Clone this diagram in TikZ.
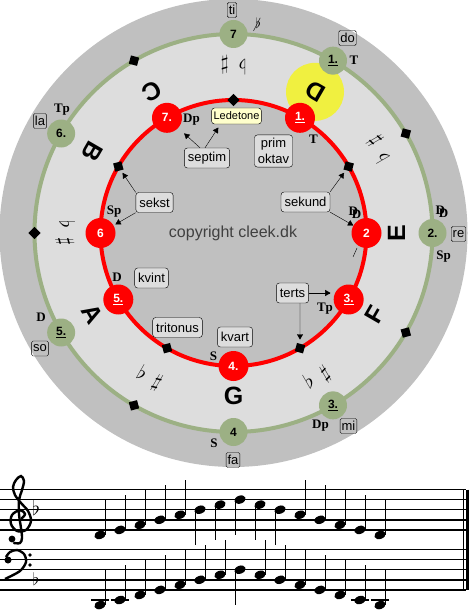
\documentclass[tikz,border=0pt]{standalone}
\usepackage{fontspec}
\setmainfont{Liberation Serif}
\setsansfont{Liberation Sans}
\usetikzlibrary{shapes,arrows,positioning}

\definecolor{outergray}{RGB}{192,192,192}
\definecolor{ringgray}{RGB}{221,221,221}
\definecolor{durgreen}{RGB}{156,176,132}
\definecolor{dmark}{RGB}{240,240,64}
\definecolor{ledefill}{RGB}{255,255,204}

\newcommand{\fs}[1]{\fontsize{#1}{#1}\selectfont}
\newcommand{\ddom}{D\kern-6.2pt\raisebox{-3.5pt}{D}}

\begin{document}
\begin{tikzpicture}[x=1pt,y=-1pt]

  \tikzset{moll node/.style={circle, fill=red, minimum size=30pt, inner sep=0pt,
  		text=white, font=\sffamily\bfseries\fs{12}}, }
  \tikzset{dur node/.style={circle, fill=durgreen, minimum size=28pt, inner sep=0pt,
  		font=\sffamily\bfseries\fs{12}}, }
  \tikzset{key mark/.style={rectangle, fill=black, minimum size=8.5pt, inner sep=0pt}, }
  \tikzset{tone letter/.style={font=\sffamily\bfseries\fs{25}, inner sep=0pt}, }
  \tikzset{signs/.style={font=\fs{20}, inner sep=0pt}, }
  \tikzset{func/.style={font=\bfseries\fs{13}, inner sep=0pt}, }
  \tikzset{solmi/.style={draw, rounded corners=1.5pt, inner xsep=1.5pt, inner ysep=1pt,
  		minimum height=15pt, font=\sffamily\fs{13}}, }
  \tikzset{int box/.style={draw, fill=ringgray, rounded corners=3pt, inner xsep=3.5pt,
  		minimum height=20pt, align=center, font=\sffamily\fontsize{13}{16}\selectfont}, }
  \tikzset{linea/.style={-triangle 60}, }

  \useasboundingbox (0,0) rectangle (469,615);

  \begin{scope}[shift={(233.5,233)}, y=1pt]
    \fill[outergray] (0,0) circle (234);
    \fill[ringgray] (0,0) circle (199);
    \fill[outergray] (0,0) circle (133);
    \fill[dmark] (60:163) circle (29);
    \draw[durgreen, line width=4pt] (0,0) circle (199);
    \draw[red, line width=4pt] (0,0) circle (133);

    \foreach \a/\t in {60/D, 0/E, -30/F, -90/G, -150/A, 150/B, 120/C}
      \node[tone letter, rotate=\a+90] (t\t) at (\a:163) {\t};
    \foreach \a/\k in {90/cis, 30/dis, -60/fis, -120/gis, 180/ais}
      \node[signs, rotate=\a+90] (s\k) at (\a:168) {$\flat\hspace{10pt}\sharp$};

    \foreach \a/\k in {90/cis, 30/dis, -60/fis, -120/gis, 150/h}
      \node[key mark, rotate=\a+45] (m\k) at (\a:133) {};
    \foreach \a/\k in {120/c, 30/dis, -30/f, -120/gis, 180/ais}
      \node[key mark, rotate=\a+45] (d\k) at (\a:199) {};

    \foreach \a/\n/\t in {60/1/\underline{1.}, 0/2/2, -30/3/\underline{3.}, -90/4/4.,
        -150/5/\underline{5.}, 180/6/6, 120/7/7.}
      \node[moll node] (m\n) at (\a:133) {\t};
    \foreach \a/\n/\t in {60/1/\underline{1.}, 0/2/2., -60/3/\underline{3.}, -90/4/4,
        -150/5/\underline{5.}, 150/6/6., 90/7/7}
      \node[dur node] (d\n) at (\a:199) {\t};
  \end{scope}

  % dur
  \node[solmi] (ti) at (232,10) {ti};
  \node[solmi] (do) at (347.5,38) {do};
  \node[solmi] (re) at (458.5,234) {re};
  \node[solmi] (mi) at (348.5,426) {mi};
  \node[solmi] (fa) at (233,460) {fa};
  \node[solmi] (so) at (40,348.5) {so};
  \node[solmi] (la) at (40,121) {la};
  \node[func] (dT) at (354,60) {T};
  \node[func] (dDD) at (442,212) {\ddom};
  \node[func] (dSp) at (443.5,257) {Sp};
  \node[func] (dDp) at (320.5,426) {Dp};
  \node[func] (dS) at (214,443) {S};
  \node[func] (dD) at (41,317) {D};
  \node[func] (dTp) at (62,110) {Tp};
  \node[font=\fs{15}, inner sep=0pt] (dti) at (256,25) {$\not\flat$};

  % moll
  \node[func] (mT) at (313.5,139) {T};
  \node[func] (mDp) at (191.5,120) {Dp};
  \node[func] (mSp) at (114,212) {Sp};
  \node[func] (mD) at (117,277) {D};
  \node[func] (mS) at (213.5,356) {S};
  \node[func] (mTp) at (325,309) {Tp};
  \node[func] (mDD) at (355,213) {\ddom};

  \node[font=\sffamily\fs{16}, text=black!75] (copy) at (233,233) {copyright cleek.dk};

  \node[int box, fill=ledefill, minimum height=16pt, inner xsep=2pt, font=\sffamily\fs{11}] (lede) at (236.5,116) {Ledetone};
  \node[int box] (septim) at (207,158) {septim};
  \node[int box] (prim) at (273.5,151) {prim\\oktav};
  \node[int box] (sekund) at (305.5,202) {sekund};
  \node[int box] (sekst) at (154.5,202.5) {sekst};
  \node[int box] (kvint) at (151.5,278) {kvint};
  \node[int box] (tritonus) at (177.5,327.5) {tritonus};
  \node[int box] (kvart) at (235,337) {kvart};
  \node[int box] (terts) at (292.5,293) {terts};

  \draw[linea, shorten >=8pt] ([xshift=-7pt]septim.north) -- (m7);
  \draw[linea, shorten >=4pt] ([xshift=-2pt]septim.north) -- ([xshift=-16pt]lede.south);
  \draw[linea, shorten >=3pt] (sekund.north east) -- (mdis);
  \draw[linea] (sekund.south east) -- (m2);
  \draw[linea, shorten >=3pt] (sekst.north west) -- (mh);
  \draw[linea, shorten >=2pt] (sekst.south west) -- (m6);
  \draw[linea, shorten >=3pt] (terts.east) -- (terts.east -| m3.west);
  \draw[linea, shorten >=4pt] (terts.south -| mfis) -- (mfis);
  \draw (353,257) -- (357,248);

  % noder
  \foreach \s in {0,...,4} {
    \draw[line width=1.5pt] (0,489.5+10.1*\s) -- (466,489.5+10.1*\s);
    \draw[line width=1.5pt] (0,549.5+10.1*\s) -- (466,549.5+10.1*\s);
  }
  \draw[line width=1pt] (463.5,489.5) -- (463.5,590);
  \draw[line width=3pt] (467.5,489.5) -- (467.5,590);

  \draw[line width=2.4pt, line cap=round] plot[smooth, tension=0.55] coordinates {(22,518) (25,514)
    (20,510) (12,515) (11,524) (17,531) (26,530) (31,521) (28,511) (21,503) (15,495) (13,487)
    (16,480) (21,476) (24,481) (22,490) (19,500) (19,514) (21,528) (22,538) (20,543) (14,543)};
  \fill (12,539) circle (3.4);
  \fill (8,560) circle (3.5);
  \draw[line width=2.4pt] plot[smooth] coordinates {(6,557) (10,552) (17,550) (24,554)
    (26,562) (20,571) (5,579)};
  \fill (30,555) circle (1.8);
  \fill (30,565) circle (1.8);
  \node[font=\fs{20}, inner sep=0pt, anchor=base] (kt) at (36,515) {$\flat$};
  \node[font=\fs{17}, inner sep=0pt, anchor=base] (kb) at (36,585) {$\flat$};

  \foreach \p [count=\i] in {-1,0,1,2,3,4,5,6,5,4,3,2,1,0,-1} {
    \pgfmathsetmacro{\nx}{80+20*\i}
    \pgfmathsetmacro{\ny}{529.9-5.05*\p}
    \fill[rotate around={20:(\nx,\ny)}] (\nx,\ny) ellipse (5.8pt and 4pt);
    \ifnum\p<4 \draw (\nx+4.8,\ny) -- ++(0,-35); \else \draw (\nx-4.8,\ny) -- ++(0,35); \fi
  }
  \foreach \p [count=\i] in {-3,-2,-1,0,1,2,3,4,3,2,1,0,-1,-2,-3} {
    \pgfmathsetmacro{\nx}{80+20*\i}
    \pgfmathsetmacro{\ny}{589.9-5.05*\p}
    \ifnum\p<-1 \draw[line width=1.5pt] (\nx-9,600) -- (\nx+9,600); \fi
    \fill[rotate around={20:(\nx,\ny)}] (\nx,\ny) ellipse (5.8pt and 4pt);
    \ifnum\p<4 \draw (\nx+4.8,\ny) -- ++(0,-35); \else \draw (\nx-4.8,\ny) -- ++(0,35); \fi
  }
%%
\end{tikzpicture}
\end{document}
